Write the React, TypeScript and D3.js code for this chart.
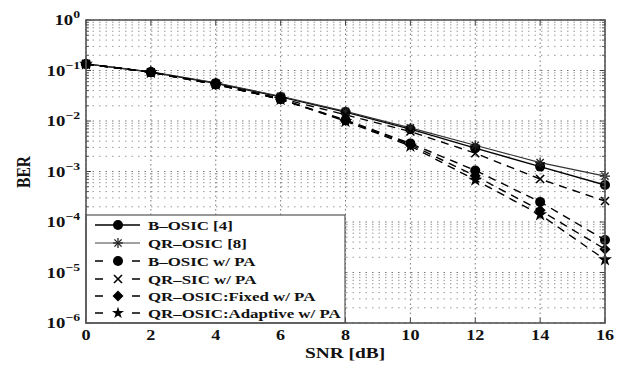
import React from 'react';
import * as d3 from 'd3';

const snr = [0, 2, 4, 6, 8, 10, 12, 14, 16];
const bOsic = [0.135, 0.093, 0.056, 0.030, 0.015, 0.0069, 0.0029, 0.00125, 0.00054];
const qrOsic = [0.135, 0.094, 0.057, 0.031, 0.0155, 0.0073, 0.0033, 0.0015, 0.00081];
const bOsicPA = [0.135, 0.092, 0.053, 0.027, 0.0105, 0.0036, 0.00105, 0.00025, 0.000044];
const qrSicPA = [0.135, 0.092, 0.054, 0.028, 0.0133, 0.0062, 0.0023, 0.00071, 0.00026];
const qrFixedPA = [0.135, 0.092, 0.053, 0.027, 0.0102, 0.0034, 0.00082, 0.00017, 0.000029];
const qrAdaptPA = [0.135, 0.092, 0.053, 0.027, 0.0099, 0.0032, 0.00068, 0.00014, 0.000018];

const seriesNames = [
  'B–OSIC [4]',
  'QR–OSIC [8]',
  'B–OSIC w/ PA',
  'QR–SIC w/ PA',
  'QR–OSIC:Fixed w/ PA',
  'QR–OSIC:Adaptive w/ PA',
];
const seriesValues = [bOsic, qrOsic, bOsicPA, qrSicPA, qrFixedPA, qrAdaptPA];
const seriesMarkers = ['circle', 'asterisk', 'circle', 'x', 'diamond', 'star'];
const seriesDashed = [false, false, true, true, true, true];

const xTicks = [0, 2, 4, 6, 8, 10, 12, 14, 16];
const yExponents = [0, -1, -2, -3, -4, -5, -6];
const xLabel = 'SNR [dB]';
const yLabel = 'BER';

const STRETCH = 1.25;
const FONT = '"Liberation Serif", "Times New Roman", serif';

function Marker({ kind, cx, cy, small = false }: { kind: string; cx: number; cy: number; small?: boolean }) {
  if (kind === 'circle') return <circle cx={cx} cy={cy} r={5} fill="#000" />;
  if (kind === 'asterisk') {
    const s = 5, d = 3.6;
    return (
      <g stroke="#222" strokeWidth={1.3}>
        <line x1={cx - s} y1={cy} x2={cx + s} y2={cy} />
        <line x1={cx} y1={cy - s} x2={cx} y2={cy + s} />
        <line x1={cx - d} y1={cy - d} x2={cx + d} y2={cy + d} />
        <line x1={cx - d} y1={cy + d} x2={cx + d} y2={cy - d} />
      </g>
    );
  }
  if (kind === 'x') {
    const d = 4;
    return (
      <g stroke="#000" strokeWidth={1.6}>
        <line x1={cx - d} y1={cy - d} x2={cx + d} y2={cy + d} />
        <line x1={cx - d} y1={cy + d} x2={cx + d} y2={cy - d} />
      </g>
    );
  }
  if (kind === 'diamond') {
    const s = 5.5;
    return <path d={`M${cx},${cy - s}L${cx + s},${cy}L${cx},${cy + s}L${cx - s},${cy}Z`} fill="#000" />;
  }
  const star = d3.symbol(d3.symbolStar, small ? 45 : 60)();
  return <path d={star || ''} transform={`translate(${cx},${cy})`} fill="#000" />;
}

function T({ x, y, size, anchor = 'start', children, rotate = false }: any) {
  const tf = rotate
    ? `translate(${x},${y}) rotate(-90) scale(1,${STRETCH})`
    : `translate(${x},${y}) scale(${STRETCH},1)`;
  return (
    <text transform={tf} fontFamily={FONT} fontWeight="bold" fontSize={size} textAnchor={anchor} fill="#111">
      {children}
    </text>
  );
}

export default function App() {
  const W = 626, H = 365;
  const L = 86, R = 605, Tp = 20, B = 323;
  const x = d3.scaleLinear().domain([0, 16]).range([L, R]);
  const y = d3.scaleLog().domain([1e-6, 1]).range([B, Tp]);
  const line = d3.line<[number, number]>().x(d => x(d[0])).y(d => y(d[1]));

  const minorVals: number[] = [];
  for (let e = -6; e < 0; e++) for (let k = 2; k <= 9; k++) minorVals.push(k * Math.pow(10, e));

  const legL = 86, legT = 215, legR = 345, legB = 323;
  const legYs = [225, 243, 261, 279, 296, 313];

  return (
    <svg width={W} height={H} style={{ position: 'absolute', left: 0, top: 0, background: '#fff' }}>
      <rect x={0} y={0} width={W} height={H} fill="#fff" />
      {minorVals.map((v, i) => (
        <line key={'mg' + i} x1={L} x2={R} y1={y(v)} y2={y(v)} stroke="#999" strokeWidth={1} strokeDasharray="1.5,5" />
      ))}
      {yExponents.map(e => (
        <line key={'Mg' + e} x1={L} x2={R} y1={y(Math.pow(10, e))} y2={y(Math.pow(10, e))} stroke="#777" strokeWidth={1} strokeDasharray="1.5,5" />
      ))}
      {xTicks.map(t => (
        <line key={'vg' + t} x1={x(t)} x2={x(t)} y1={Tp} y2={B} stroke="#777" strokeWidth={1} strokeDasharray="1.5,3" />
      ))}
      {seriesValues.map((vals, i) => (
        <path
          key={'s' + i}
          d={line(snr.map((s, j) => [s, vals[j]] as [number, number])) || ''}
          fill="none"
          stroke={i === 1 ? '#333' : '#000'}
          strokeWidth={i === 1 ? 1.1 : 1.4}
          strokeDasharray={seriesDashed[i] ? '8,6' : undefined}
        />
      ))}
      {seriesValues.map((vals, i) => (
        <g key={'m' + i}>
          {snr.map((s, j) => (
            <Marker key={j} kind={seriesMarkers[i]} cx={x(s)} cy={y(vals[j])} />
          ))}
        </g>
      ))}
      {xTicks.map(t => (
        <g key={'xt' + t} stroke="#444" strokeWidth={1}>
          <line x1={x(t)} x2={x(t)} y1={B} y2={B - 5} />
          <line x1={x(t)} x2={x(t)} y1={Tp} y2={Tp + 5} />
        </g>
      ))}
      {yExponents.map(e => (
        <g key={'yt' + e} stroke="#444" strokeWidth={1}>
          <line x1={L} x2={L + 5} y1={y(Math.pow(10, e))} y2={y(Math.pow(10, e))} />
          <line x1={R} x2={R - 5} y1={y(Math.pow(10, e))} y2={y(Math.pow(10, e))} />
        </g>
      ))}
      {minorVals.map((v, i) => (
        <g key={'ym' + i} stroke="#555" strokeWidth={1}>
          <line x1={L} x2={L + 3} y1={y(v)} y2={y(v)} />
          <line x1={R} x2={R - 3} y1={y(v)} y2={y(v)} />
        </g>
      ))}
      <rect x={legL} y={legT} width={legR - legL} height={legB - legT} fill="#fff" stroke="#555" strokeWidth={1.2} />
      {seriesNames.map((name, i) => (
        <g key={'lg' + i}>
          <line
            x1={95}
            x2={140}
            y1={legYs[i]}
            y2={legYs[i]}
            stroke={i === 1 ? '#444' : '#000'}
            strokeWidth={i === 1 ? 1.1 : 1.4}
            strokeDasharray={seriesDashed[i] ? '8,29,8' : undefined}
          />
          <Marker kind={seriesMarkers[i]} cx={118} cy={legYs[i]} small />
          <T x={148} y={legYs[i] + 5} size={13.5}>{name}</T>
        </g>
      ))}
      <rect x={L} y={Tp} width={R - L} height={B - Tp} fill="none" stroke="#555" strokeWidth={1.6} />
      {yExponents.map(e => (
        <T key={'yl' + e} x={80} y={y(Math.pow(10, e)) + 5} size={15} anchor="end">
          10<tspan dy={-7} fontSize={11}>{e === 0 ? '0' : '−' + Math.abs(e)}</tspan>
        </T>
      ))}
      {xTicks.map(t => (
        <T key={'xl' + t} x={x(t)} y={340} size={14.5} anchor="middle">{String(t)}</T>
      ))}
      <T x={345} y={358} size={15.5} anchor="middle">{xLabel}</T>
      <T x={30} y={172} size={15.5} anchor="middle" rotate>{yLabel}</T>
    </svg>
  );
}
